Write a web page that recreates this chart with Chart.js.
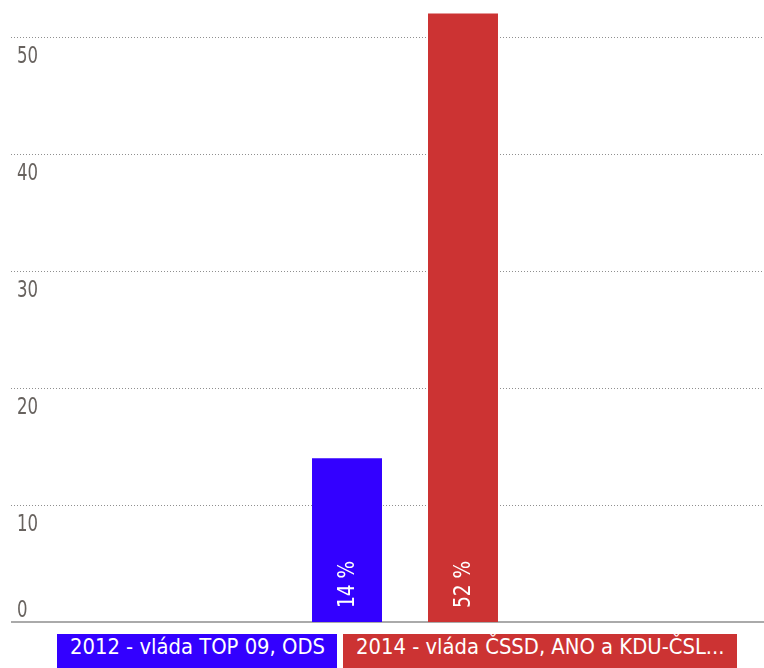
<!DOCTYPE html>
<html>
<head>
<meta charset="utf-8">
<script src="https://cdn.jsdelivr.net/npm/chart.js@4"></script>
<style>
  html, body { margin: 0; padding: 0; background: #fff; overflow: hidden; }
  #wrap { position: relative; width: 764px; height: 668px; }
  #legend { position: absolute; left: 57px; top: 634px; display: flex; gap: 6px; }
  #legend span {
    display: block; height: 40px; line-height: 38px; padding: 0 12px 0 13px;
    color: #fff; font: 21.8px "Liberation Sans Narrow", "DejaVu Sans Condensed", sans-serif;
    white-space: nowrap;
  }
</style>
</head>
<body>
<div id="wrap">
  <canvas id="chart" width="764" height="668"></canvas>
  <div id="legend"></div>
</div>
<script>
// data
const seriesNames = ['2012 - vláda TOP 09, ODS', '2014 - vláda ČSSD, ANO a KDU-ČSL...'];
const seriesValues = [14, 52];
const seriesColors = ['#3300ff', '#cc3333'];
const yTicks = [0, 10, 20, 30, 40, 50];

const font = '"Liberation Sans Narrow", "DejaVu Sans Condensed", sans-serif';

// narrow text: squeeze horizontally
function narrowText(ctx, text, x, y, sx) {
    ctx.save();
    ctx.translate(x, y);
    ctx.scale(sx, 1);
    ctx.fillText(text, 0, 0);
    ctx.restore();
}

const gridPlugin = {
    id: 'grid',
    beforeDatasetsDraw(chart) {
        const ctx = chart.ctx;
        const y = chart.scales.y;
        ctx.save();
        ctx.font = '23px ' + font;
        ctx.fillStyle = '#67625e';
        ctx.textBaseline = 'alphabetic';
        yTicks.forEach((t) => {
            const py = Math.round(y.getPixelForValue(t));
            if (t === 0) {
                ctx.setLineDash([]);
                ctx.strokeStyle = '#aaaaaa';
                ctx.lineWidth = 2;
                ctx.beginPath();
                ctx.moveTo(11, py);
                ctx.lineTo(764, py);
                ctx.stroke();
                narrowText(ctx, String(t), 17, py - 5, 0.8);
            } else {
                ctx.setLineDash([1, 2]);
                ctx.strokeStyle = '#8f8f8f';
                ctx.lineWidth = 1;
                ctx.beginPath();
                ctx.moveTo(11, py + 0.5);
                ctx.lineTo(764, py + 0.5);
                ctx.stroke();
                narrowText(ctx, String(t), 17, py + 26, 0.8);
            }
        });
        ctx.restore();
    },
    afterDatasetsDraw(chart) {
        const ctx = chart.ctx;
        ctx.save();
        ctx.font = '23px ' + font;
        ctx.fillStyle = '#fff';
        ctx.textAlign = 'left';
        ctx.textBaseline = 'middle';
        chart.data.datasets.forEach((ds, i) => {
            const bar = chart.getDatasetMeta(i).data[0];
            ctx.save();
            ctx.translate(bar.x, bar.base - 14);
            ctx.rotate(-Math.PI / 2);
            narrowText(ctx, ds.data[0] + ' %', 0, 1, 0.9);
            ctx.restore();
        });
        ctx.restore();
    }
};

new Chart(document.getElementById('chart'), {
    type: 'bar',
    data: {
        labels: [''],
        datasets: seriesNames.map((name, i) => ({
            label: name,
            data: [seriesValues[i]],
            backgroundColor: seriesColors[i],
            categoryPercentage: 0.3231,
            barPercentage: 0.6034
        }))
    },
    options: {
        responsive: false,
        animation: false,
        layout: { padding: { left: 46, right: 0, top: 0, bottom: 46 } },
        plugins: { legend: { display: false }, tooltip: { enabled: false } },
        scales: {
            x: { display: false },
            y: { display: false, min: 0, max: 622 / 11.7 }
        }
    },
    plugins: [gridPlugin]
});

const legend = document.getElementById('legend');
seriesNames.forEach((name, i) => {
    const s = document.createElement('span');
    s.textContent = name;
    s.style.background = seriesColors[i];
    legend.appendChild(s);
});
</script>
</body>
</html>
